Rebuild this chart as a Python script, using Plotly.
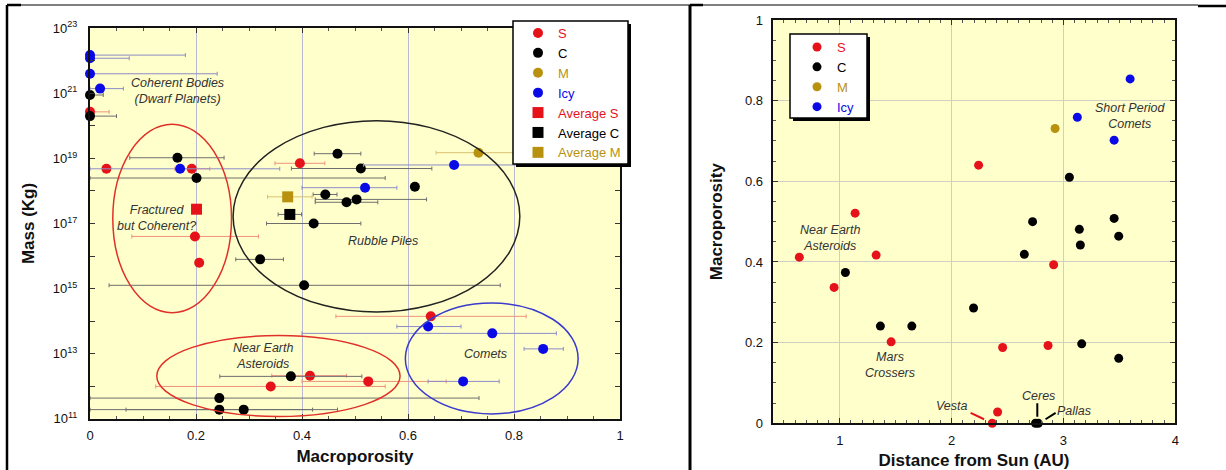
import plotly.graph_objects as go

W, H = 1226, 470

def fx(p):
    return p / W

def fy(p):
    return 1 - p / H

RED = "#e6121a"
BLACK = "#000000"
GOLD = "#b8920e"
BLUE = "#0a0ae6"
RED_ERR = "#f0907f"
BLACK_ERR = "#6e6e6e"
GOLD_ERR = "#d9c070"
BLUE_ERR = "#8c8cc8"
FONT = "Arial, Liberation Sans, Helvetica, sans-serif"

# ---------------- Left panel: Mass vs Macroporosity ----------------
s_poro = [0.0, 0.031, 0.192, 0.396, 0.198, 0.206, 0.643, 0.415, 0.341, 0.525]
s_mass = [2.7e20, 4.8e18, 4.8e18, 7.1e18, 4.0e16, 6.2e15, 1.4e14, 2.1e12, 9.8e11, 1.4e12]
s_lo = [0.0, 0.031, 0.160, 0.349, 0.079, 0.206, 0.464, 0.343, 0.124, 0.400]
s_hi = [0.036, 0.031, 0.226, 0.443, 0.318, 0.206, 0.823, 0.484, 0.557, 0.672]

c_poro = [0.0, 0.0, 0.165, 0.201, 0.467, 0.511, 0.613, 0.444, 0.503, 0.484, 0.422,
          0.321, 0.404, 0.379, 0.244, 0.244, 0.290]
c_mass = [8.9e20, 2.0e20, 1.05e19, 2.5e18, 1.4e19, 4.9e18, 1.35e18, 7.8e17, 5.5e17,
          4.5e17, 1.0e17, 7.9e15, 1.26e15, 2.0e12, 4.3e11, 1.9e11, 1.9e11]
c_lo = [0.0, 0.0, 0.075, 0.0, 0.423, 0.380, 0.613, 0.421, 0.425, 0.425, 0.333,
        0.275, 0.036, 0.245, 0.0, 0.0, 0.068]
c_hi = [0.025, 0.050, 0.253, 0.557, 0.511, 0.645, 0.613, 0.466, 0.635, 0.543, 0.511,
        0.365, 0.774, 0.513, 0.734, 0.420, 0.467]

m_poro = [0.733]
m_mass = [1.5e19]
m_lo = [0.653]
m_hi = [0.813]

icy_poro = [0.0, 0.0, 0.0, 0.019, 0.170, 0.687, 0.519, 0.638, 0.759, 0.855, 0.704]
icy_mass = [1.5e22, 1.2e22, 4.0e21, 1.4e21, 4.8e18, 6.3e18, 1.26e18, 6.8e13, 4.2e13,
            1.4e13, 1.4e12]
icy_lo = [0.0, 0.0, 0.0, 0.0, 0.0, 0.516, 0.400, 0.579, 0.400, 0.819, 0.638]
icy_hi = [0.180, 0.074, 0.240, 0.063, 0.358, 0.862, 0.579, 0.700, 0.880, 0.893, 0.772]

avg_s_poro, avg_s_mass, avg_s_lo, avg_s_hi = [0.201], [2.75e17], [0.201], [0.201]
avg_c_poro, avg_c_mass, avg_c_lo, avg_c_hi = [0.377], [1.9e17], [0.355], [0.399]
avg_m_poro, avg_m_mass, avg_m_lo, avg_m_hi = [0.373], [6.6e17], [0.335], [0.419]

mass_label_exp = [11, 13, 15, 17, 19, 21, 23]

# ---------------- Right panel: Macroporosity vs distance ----------------
rs_dist = [1.137, 2.241, 0.638, 1.325, 0.949, 1.459, 2.912, 2.456, 2.862, 2.411, 2.363]
rs_poro = [0.521, 0.640, 0.412, 0.417, 0.337, 0.202, 0.393, 0.188, 0.193, 0.028, 0.0]
rc_dist = [3.053, 2.724, 3.453, 3.142, 3.494, 3.151, 2.650, 1.050, 1.363, 1.644, 2.196,
           3.163, 3.494, 2.750, 2.775]
rc_poro = [0.610, 0.500, 0.508, 0.481, 0.464, 0.442, 0.419, 0.374, 0.241, 0.241, 0.286,
           0.197, 0.161, 0.0, 0.0]
rm_dist = [2.925]
rm_poro = [0.731]
ricy_dist = [3.596, 3.124, 3.453]
ricy_poro = [0.854, 0.759, 0.702]


def lab(text, color):
    return f"<span style='color:{color}'>{text}</span>"


def err(xs, lo, hi, color):
    return dict(type="data", symmetric=False,
                array=[h - x for x, h in zip(xs, hi)],
                arrayminus=[x - l for x, l in zip(xs, lo)],
                color=color, thickness=1, width=2)


fig = go.Figure()

left_series = [
    ("S", s_poro, s_mass, s_lo, s_hi, RED, RED_ERR, "circle", 10),
    ("C", c_poro, c_mass, c_lo, c_hi, BLACK, BLACK_ERR, "circle", 10),
    ("M", m_poro, m_mass, m_lo, m_hi, GOLD, GOLD_ERR, "circle", 10),
    ("Icy", icy_poro, icy_mass, icy_lo, icy_hi, BLUE, BLUE_ERR, "circle", 10),
    ("Average S", avg_s_poro, avg_s_mass, avg_s_lo, avg_s_hi, RED, RED_ERR, "square", 11),
    ("Average C", avg_c_poro, avg_c_mass, avg_c_lo, avg_c_hi, BLACK, BLACK_ERR, "square", 11),
    ("Average M", avg_m_poro, avg_m_mass, avg_m_lo, avg_m_hi, GOLD, GOLD_ERR, "square", 11),
]
for name, xs, ys, lo, hi, col, ecol, sym, size in left_series:
    fig.add_trace(go.Scatter(
        x=xs, y=ys, mode="markers", name=lab(name, col),
        marker=dict(color=col, size=size, symbol=sym, line=dict(width=0)),
        error_x=err(xs, lo, hi, ecol), cliponaxis=False,
        xaxis="x", yaxis="y", legend="legend"))

right_series = [
    ("S", rs_dist, rs_poro, RED),
    ("C", rc_dist, rc_poro, BLACK),
    ("M", rm_dist, rm_poro, GOLD),
    ("Icy", ricy_dist, ricy_poro, BLUE),
]
for name, xs, ys, col in right_series:
    fig.add_trace(go.Scatter(
        x=xs, y=ys, mode="markers", name=lab(name, col),
        marker=dict(color=col, size=9, line=dict(width=0)), cliponaxis=False,
        xaxis="x2", yaxis="y2", legend="legend2"))

tick_font = dict(family=FONT, size=13, color="#111")
title_font = dict(family=FONT, size=17, color="#111")

ann_style = dict(showarrow=False, font=dict(family=FONT, size=12.5, color="#333"))


def italic(t):
    return "<i>" + t + "</i>"


annotations = [
    dict(x=0.165, y=21.07, xref="x", yref="y", text=italic("Coherent Bodies<br>(Dwarf Planets)"), **ann_style),
    dict(x=0.126, y=17.17, xref="x", yref="y", text=italic("Fractured<br>but Coherent?"), **ann_style),
    dict(x=0.553, y=16.46, xref="x", yref="y", text=italic("Rubble Piles"), **ann_style),
    dict(x=0.327, y=12.92, xref="x", yref="y", text=italic("Near Earth<br>Asteroids"), **ann_style),
    dict(x=0.747, y=12.98, xref="x", yref="y", text=italic("Comets"), **ann_style),
    dict(x=0.913, y=0.459, xref="x2", yref="y2", text=italic("Near Earth<br>Asteroids"), **ann_style),
    dict(x=1.451, y=0.145, xref="x2", yref="y2", text=italic("Mars<br>Crossers"), **ann_style),
    dict(x=3.60, y=0.761, xref="x2", yref="y2", text=italic("Short Period<br>Comets"), **ann_style),
    dict(x=2.005, y=0.043, xref="x2", yref="y2", text=italic("Vesta"), **ann_style),
    dict(x=2.778, y=0.068, xref="x2", yref="y2", text=italic("Ceres"), **ann_style),
    dict(x=3.09, y=0.030, xref="x2", yref="y2", text=italic("Pallas"), **ann_style),
]

shapes = []
# region ellipses (left panel; y in kg, log axis)
shapes += [
    dict(type="circle", xref="x", yref="y", x0=0.043, x1=0.267, y0=1.8e14, y1=1.12e20,
         line=dict(color="#e0302a", width=1.5)),
    dict(type="circle", xref="x", yref="y", x0=0.270, x1=0.811, y0=1.9e14, y1=1.45e20,
         line=dict(color="#222", width=1.5)),
    dict(type="circle", xref="x", yref="y", x0=0.126, x1=0.585, y0=1.17e11, y1=3.6e13,
         line=dict(color="#e0302a", width=1.5)),
    dict(type="circle", xref="x", yref="y", x0=0.595, x1=0.921, y0=1.4e11, y1=3.6e14,
         line=dict(color="#3a3acc", width=1.5)),
]
# leader lines (right panel)
shapes += [
    dict(type="line", xref="x2", yref="y2", x0=2.17, y0=0.026, x1=2.29, y1=0.010,
         line=dict(color=RED, width=2)),
    dict(type="line", xref="x2", yref="y2", x0=2.766, y0=0.050, x1=2.766, y1=0.016,
         line=dict(color="#000", width=2)),
    dict(type="line", xref="x2", yref="y2", x0=2.84, y0=0.010, x1=2.93, y1=0.026,
         line=dict(color="#000", width=2)),
]
# legend boxes with drop shadows
for (l, t, r, b) in [(513, 21, 628, 164), (790, 34, 867, 118)]:
    shapes.append(dict(type="rect", xref="paper", yref="paper",
                       x0=fx(l + 3), x1=fx(r + 3), y0=fy(b + 3), y1=fy(t + 3),
                       fillcolor="#000", line=dict(width=0), layer="above"))
    shapes.append(dict(type="rect", xref="paper", yref="paper",
                       x0=fx(l), x1=fx(r), y0=fy(b), y1=fy(t),
                       fillcolor="#fff", line=dict(color="#000", width=1.5), layer="above"))
# page / table frame
frame = [
    (7, 5, 1198, 5, 1), (7, 5, 21, 5, 2.5), (690, 5, 703, 5, 2.5), (1198, 6, 1226, 6, 2.5),
    (7, 5, 7, 470, 2.5), (690, 5, 690, 470, 3),
]
for x0, y0, x1, y1, w in frame:
    shapes.append(dict(type="line", xref="paper", yref="paper",
                       x0=fx(x0), y0=fy(y0), x1=fx(x1), y1=fy(y1),
                       line=dict(color="#000", width=w)))

axis_common = dict(showline=True, linecolor="#111", linewidth=2, mirror="ticks",
                   ticks="inside", ticklen=5, tickcolor="#333", tickfont=tick_font,
                   zeroline=False, automargin=False)

fig.update_layout(
    width=W, height=H,
    margin=dict(l=0, r=0, t=0, b=0, autoexpand=False),
    paper_bgcolor="#ffffff",
    plot_bgcolor="#ffffcc",
    font=dict(family=FONT),
    xaxis=dict(domain=[fx(90), fx(620)], range=[0, 1], anchor="y",
               tickvals=[0, 0.2, 0.4, 0.6, 0.8, 1], ticktext=["0", "0.2", "0.4", "0.6", "0.8", "1"],
               showgrid=True, gridcolor="#b9b9d2", gridwidth=1, ticklabelstandoff=4,
               minor=dict(ticks="inside", dtick=0.05, ticklen=3, tickcolor="#555", showgrid=False),
               title=dict(text="<b>Macroporosity</b>", font=title_font, standoff=8),
               **axis_common),
    yaxis=dict(domain=[fy(418.7), fy(28.3)], type="log", range=[11, 23], anchor="x",
               tickvals=[10.0 ** e for e in mass_label_exp],
               ticktext=[f"10<sup>{e}</sup>" for e in mass_label_exp],
               showgrid=False, ticklabelstandoff=8,
               minor=dict(ticks="inside", dtick=1, ticklen=5, tickcolor="#333", showgrid=False),
               title=dict(text="<b>Mass (Kg)</b>", font=title_font, standoff=14),
               **axis_common),
    xaxis2=dict(domain=[fx(772.7), fx(1175.3)], range=[0.4, 4], anchor="y2",
                tick0=0, dtick=1, showgrid=True, gridcolor="#cfcfc4", gridwidth=1,
                ticklabelstandoff=4,
                minor=dict(ticks="inside", dtick=0.1, tick0=0, ticklen=3, tickcolor="#555", showgrid=False),
                title=dict(text="<b>Distance from Sun (AU)</b>", font=title_font, standoff=10),
                **axis_common),
    yaxis2=dict(domain=[fy(423.3), fy(20)], range=[0, 1], anchor="x2",
                tickvals=[0, 0.2, 0.4, 0.6, 0.8, 1], ticktext=["0", "0.2", "0.4", "0.6", "0.8", "1"],
                showgrid=True, gridcolor="#cfcfc4", gridwidth=1, ticklabelstandoff=5,
                minor=dict(ticks="inside", dtick=0.05, ticklen=3, tickcolor="#555", showgrid=False),
                title=dict(text="<b>Macroporosity</b>", font=title_font, standoff=18),
                **axis_common),
    legend=dict(x=fx(518), y=fy(18), xanchor="left", yanchor="top",
                bgcolor="rgba(0,0,0,0)", borderwidth=0, font=dict(family=FONT, size=13),
                tracegroupgap=0, itemclick=False),
    legend2=dict(x=fx(797), y=fy(32), xanchor="left", yanchor="top",
                 bgcolor="rgba(0,0,0,0)", borderwidth=0, font=dict(family=FONT, size=13),
                 tracegroupgap=0, itemclick=False),
    showlegend=True,
    annotations=annotations,
    shapes=shapes,
)

fig.write_html("out.html",
               config={"displayModeBar": False},
               post_script="document.body.style.margin='0';document.body.style.overflow='hidden';")
